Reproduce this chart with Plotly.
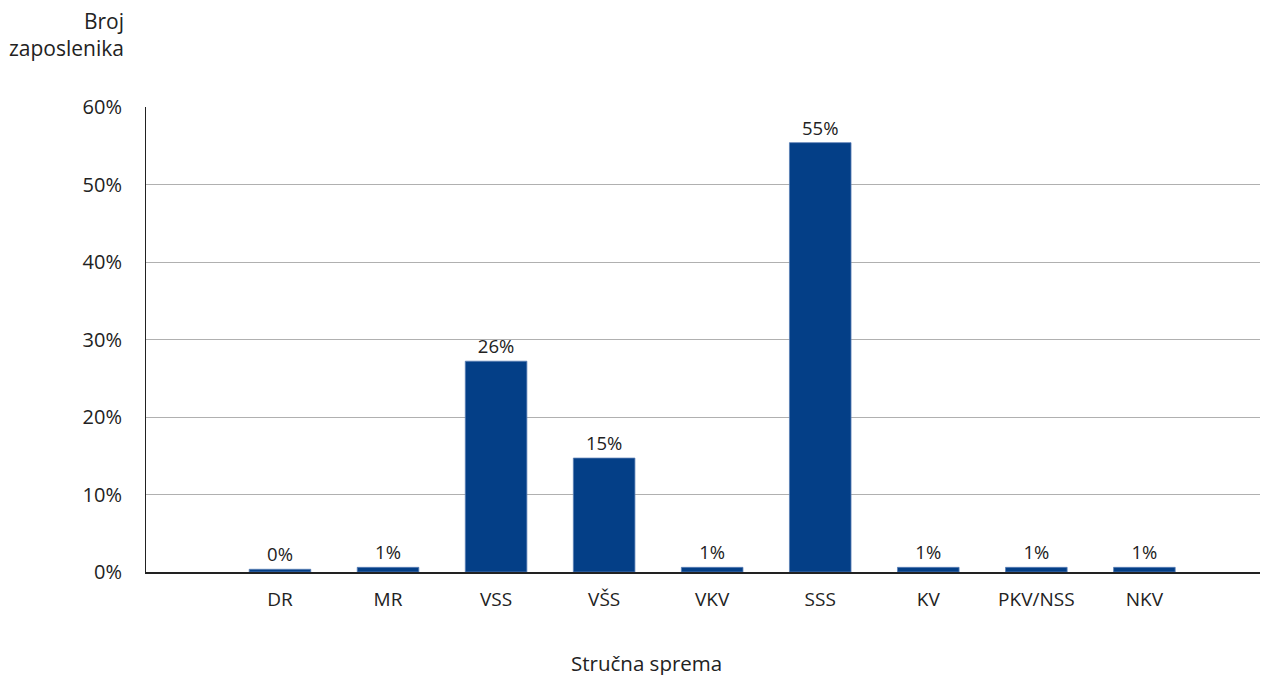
import plotly.graph_objects as go

categories = ["DR", "MR", "VSS", "VŠS", "VKV", "SSS", "KV", "PKV/NSS", "NKV"]
values = [0.35, 0.6, 27.2, 14.7, 0.6, 55.4, 0.6, 0.6, 0.6]
value_labels = ["0%", "1%", "26%", "15%", "1%", "55%", "1%", "1%", "1%"]
y_ticks = [0, 10, 20, 30, 40, 50, 60]
y_tick_labels = ["0%", "10%", "20%", "30%", "40%", "50%", "60%"]

FONT = "Open Sans"

fig = go.Figure(
    go.Bar(
        x=categories,
        y=values,
        text=value_labels,
        textposition="outside",
        cliponaxis=False,
        textfont=dict(family=FONT, size=18.5, color="#222222"),
        marker=dict(color="#043f87", line=dict(color="#5a7fb5", width=0.8)),
        width=0.57,
    )
)

fig.update_layout(
    width=1261,
    height=675,
    margin=dict(l=146, r=1, t=107, b=103),
    plot_bgcolor="white",
    paper_bgcolor="white",
    showlegend=False,
    font=dict(family=FONT, size=19, color="#222222"),
)

fig.update_xaxes(
    type="category",
    range=[-1.24, 9.07],
    showline=True,
    linecolor="#222222",
    linewidth=1.5,
    showgrid=False,
    ticks="",
    tickfont=dict(family=FONT, size=19, color="#222222"),
    ticklabelstandoff=9,
)

fig.update_yaxes(
    range=[0, 60],
    tickvals=y_ticks,
    ticktext=y_tick_labels,
    showline=True,
    linecolor="#222222",
    linewidth=1,
    showgrid=True,
    gridcolor="#b0b0b0",
    gridwidth=1,
    zeroline=False,
    ticks="",
    tickfont=dict(family=FONT, size=20, color="#222222"),
    ticklabelstandoff=19,
)

fig.add_annotation(
    text="Broj<br>zaposlenika",
    xref="paper", yref="paper",
    x=-0.018, y=1.22,
    xanchor="right", yanchor="top",
    align="right",
    showarrow=False,
    font=dict(family=FONT, size=21, color="#222222"),
)

fig.add_annotation(
    text="Stručna sprema",
    xref="paper", yref="paper",
    x=0.4497, y=-0.196,
    xanchor="center", yanchor="middle",
    showarrow=False,
    font=dict(family=FONT, size=20.5, color="#222222"),
)

fig.write_html(
    "out.html",
    config={"displayModeBar": False},
    post_script="document.body.style.margin='0';document.body.style.overflow='hidden';",
)
